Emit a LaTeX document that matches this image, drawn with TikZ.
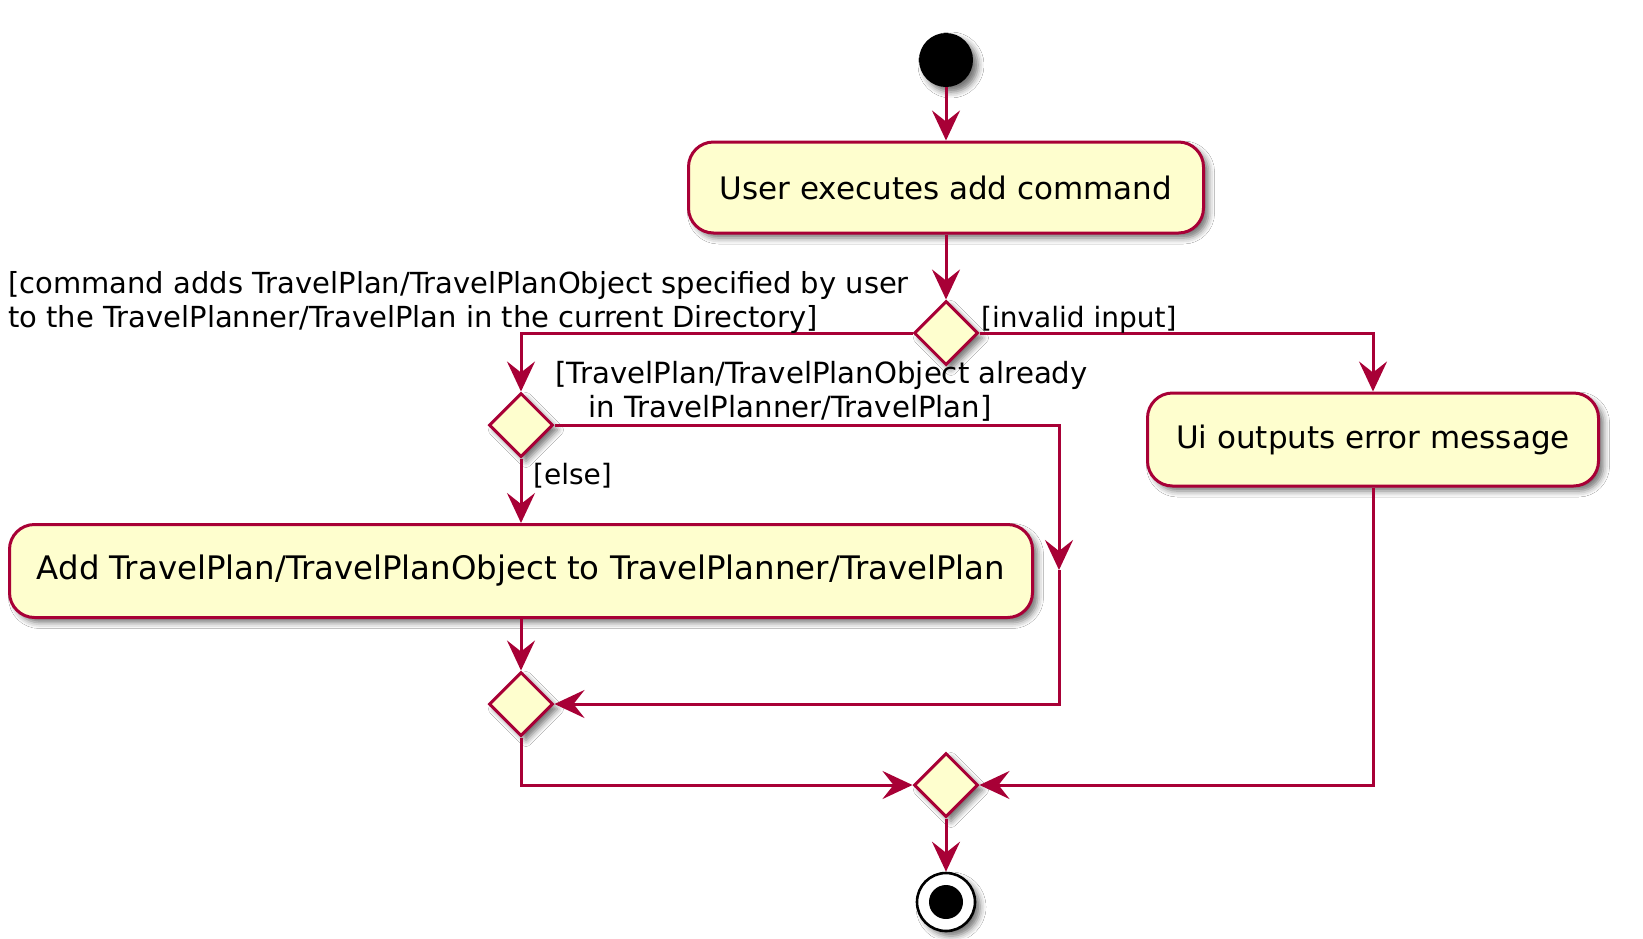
\documentclass[tikz,border=0pt]{standalone}
\usepackage{fontspec}
\setmainfont{DejaVu Sans}
\usetikzlibrary{arrows.meta,shapes.geometric,shadows.blur}
\definecolor{umlred}{HTML}{A80036}
\definecolor{umlfill}{HTML}{FEFECE}
\begin{document}
\begin{tikzpicture}[x=1pt,y=-1pt,
  shad/.style={blur shadow={shadow xshift=5pt, shadow yshift=-5pt, shadow blur radius=6pt, shadow opacity=55}},
  act/.style={rectangle, rounded corners=25pt, draw=umlred, fill=umlfill, line width=3pt, font=\fontsize{31}{37}\selectfont, inner sep=0, shad},
  dec/.style={diamond, draw=umlred, fill=umlfill, line width=3pt, minimum width=64pt, minimum height=64pt, inner sep=0, shad},
  flow/.style={draw=umlred, line width=3pt, -{Stealth[length=30pt,width=28pt,inset=11pt]}},
  lbl/.style={font=\fontsize{28}{34}\selectfont, inner sep=0, align=left},
]
\fill[white] (0,0) rectangle (1643,938);
\useasboundingbox (0,0) rectangle (1643,938);

\node[circle, fill=black, minimum size=54pt, inner sep=0, shad] (start) at (946,60) {};
\node[act, minimum width=515pt, minimum height=91pt] (box1) at (946,187.5) {User executes add command};
\node[dec] (d1) at (946,333) {};
\node[dec] (d2) at (521,425) {};
\node[act, minimum width=1023pt, minimum height=93pt, font=\fontsize{32.4}{38}\selectfont] (box2) at (521,571) {Add TravelPlan/TravelPlanObject to TravelPlanner/TravelPlan};
\node[act, minimum width=451pt, minimum height=93pt] (ui) at (1373,439.5) {Ui outputs error message};
\node[dec] (d3) at (521,704) {};
\node[dec] (d4) at (946,785) {};
\node[circle, draw=black, line width=2.6pt, fill=white, minimum size=58pt, inner sep=0, shad] (end) at (946,902) {};
\node[circle, fill=black, minimum size=34pt, inner sep=0] (endin) at (end) {};
\coordinate (c1) at (1059,570);

\draw[flow] (start) -- (box1);
\draw[flow] (box1) -- (d1);
\draw[flow] (d1.west) -| (d2.north);
\draw[flow] (d1.east) -| (ui.north);
\draw[flow] (d2.south) -- (box2.north);
\draw[flow] (d2.east) -| (c1);
\draw[flow] (c1) |- (d3.east);
\draw[flow] (box2.south) -- (d3.north);
\draw[flow] (d3.south) |- (d4.west);
\draw[flow] (ui.south) |- (d4.east);
\draw[flow] (d4.south) -- (end.north);

\node[lbl, anchor=north west, font=\fontsize{29}{34}\selectfont] (l1) at (8,271) {[command adds TravelPlan/TravelPlanObject specified by user\\to the TravelPlanner/TravelPlan in the current Directory]};
\node[lbl, anchor=north west, font=\fontsize{29.2}{34}\selectfont] (l2) at (555,361) {[TravelPlan/TravelPlanObject already\\\hspace*{33pt}in TravelPlanner/TravelPlan]};
\node[lbl, anchor=north west] (l3) at (981,306) {[invalid input]};
\node[lbl, anchor=north west] (l4) at (533,463) {[else]};
\end{tikzpicture}
\end{document}
